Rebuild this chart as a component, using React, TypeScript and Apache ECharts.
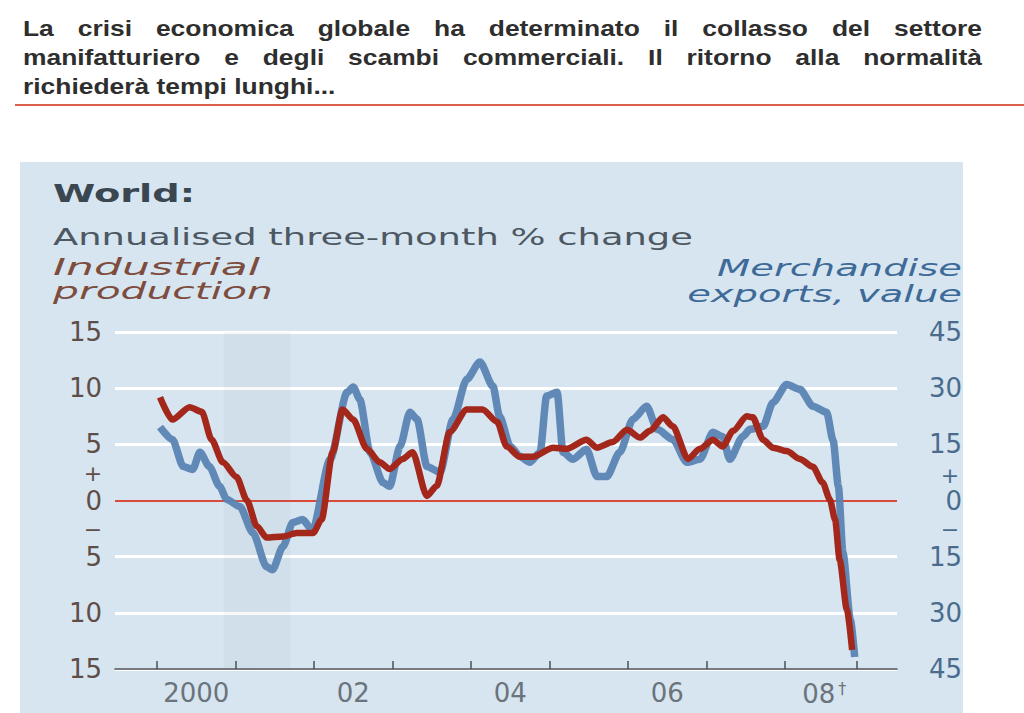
import React, { useEffect, useRef } from "react";
import * as echarts from "echarts";

// ---------- texts ----------
const headerLines = [
  "La crisi economica globale ha determinato il collasso del settore",
  "manifatturiero e degli scambi commerciali. Il ritorno alla normalità",
  "richiederà tempi lunghi...",
];
const chartTitle = "World:";
const chartSubtitle = "Annualised three-month % change";
const leftLegend = ["Industrial", "production"];
const rightLegend = ["Merchandise", "exports, value"];

// ---------- axes ----------
const yearTicks = [2000, 2001, 2002, 2003, 2004, 2005, 2006, 2007, 2008];
const lastDataTick = 2008.92;
const xLabelYears = [2000, 2002, 2004, 2006, 2008];
const xLabelTexts = ["2000", "02", "04", "06", "08"];
const shadedPeriod = [2000.85, 2001.7];

// ---------- data ----------
// Industrial production, annualised 3-month % change (left axis)
const industrialDates = [
  "2000-01-15", "2000-03-12", "2000-06", "2000-07-27", "2000-09-12", "2000-11-03",
  "2001-01-06", "2001-02-24", "2001-04-09", "2001-05-24", "2001-08-09", "2001-10-12", "2001-12-27",
  "2002-02-06", "2002-03-27", "2002-05-12", "2002-07", "2002-09-03", "2002-11-03", "2002-12-18",
  "2003-02-18", "2003-04-03", "2003-06-09", "2003-07-24", "2003-09-24", "2003-12-12",
  "2004-02-24", "2004-05", "2004-06-15", "2004-08-15", "2004-10-15",
  "2005-01-18", "2005-03-21", "2005-06-21", "2005-08-09", "2005-10-21", "2005-12-27",
  "2006-02-27", "2006-04-12", "2006-06-12", "2006-07-27", "2006-10-06", "2006-12",
  "2007-02", "2007-03-15", "2007-05-03", "2007-07-06", "2007-08-03", "2007-09-21", "2007-11-06",
  "2008-01-09", "2008-03-09", "2008-05-09", "2008-06-24", "2008-07-27", "2008-08-21",
  "2008-09-12", "2008-10-15", "2008-11-09",
];
const industrialValues = [
  9.2, 7.2, 8.3, 7.9, 5.4, 3.4,
  2.1, 0, -2.3, -3.3, -3.2, -2.9, -2.9,
  -1.7, 4.3, 8.1, 7.2, 4.6, 3.4, 2.8,
  3.7, 4.3, 0.4, 1.3, 6.1, 8.1,
  8.1, 7.0, 4.8, 3.9, 3.9,
  4.7, 4.6, 5.4, 4.7, 5.2, 6.3,
  5.6, 6.2, 7.4, 6.6, 3.7, 4.6,
  5.4, 4.8, 6.2, 7.5, 7.4, 5.4, 4.7,
  4.4, 3.7, 3.0, 1.6, 0.1, -1.7,
  -5.3, -9.7, -13.3,
];

// Merchandise exports, value, annualised 3-month % change (right axis)
const exportsDates = [
  "2000-01-15", "2000-03-12", "2000-05", "2000-06-15", "2000-07-18", "2000-09", "2000-10-18", "2000-11-21",
  "2001-01-21", "2001-03-21", "2001-05-24", "2001-06-21", "2001-08-09", "2001-09-24", "2001-11-09", "2001-12-24",
  "2002-03-15", "2002-06-03", "2002-07-01", "2002-08-01", "2002-09-18", "2002-11-18", "2002-12-18",
  "2003-02-06", "2003-03-21", "2003-04-24", "2003-06-09", "2003-08-09", "2003-10-09", "2003-12-12",
  "2004-02-12", "2004-04-12", "2004-05-12", "2004-07-01", "2004-08-15", "2004-10-01", "2004-11-18", "2004-12-18",
  "2005-02-06", "2005-03-03", "2005-04-18", "2005-06-21", "2005-08-09", "2005-09-24", "2005-11-24",
  "2006-01-24", "2006-03-27", "2006-05-15", "2006-07-27", "2006-10-01", "2006-12-01",
  "2007-02-01", "2007-03-15", "2007-04-18", "2007-06-18", "2007-07-21", "2007-09-21", "2007-11-06",
  "2008-01-09", "2008-03-09", "2008-05-09", "2008-07-12", "2008-08-12", "2008-09-06", "2008-09-27",
  "2008-11-01", "2008-11-21",
];
const exportsValues = [
  19.6, 16.3, 9.1, 8.3, 12.9, 9.1, 3.8, 0.3,
  -1.6, -8.6, -17.7, -18.5, -12.3, -5.9, -5.1, -8,
  11, 28.9, 30.3, 27, 12.9, 4.8, 3.8,
  14.5, 23.6, 21.7, 9.1, 7.5, 21.7, 32.4,
  37, 30.5, 22.5, 14.5, 11.8, 10.2, 12.9, 27.9,
  28.9, 12.9, 11, 13.7, 6.4, 6.4, 12.9,
  21.7, 25.2, 19, 16.3, 10.2, 11,
  18.2, 17.1, 11, 17.1, 19, 19.8, 26.2,
  31, 29.7, 25.2, 23.6, 16, 3.8, -13.9,
  -31.9, -41.8,
];

// ---------- helpers ----------
function toYear(s: string): number {
  const p = s.split("-").map(Number);
  const m = p[1] || 1;
  const d = p[2] || 1;
  return p[0] + (m - 1) / 12 + (d - 1) / 365;
}

let measureCtx: CanvasRenderingContext2D | null = null;
function measureText(text: string, font: string): number {
  if (!measureCtx) measureCtx = document.createElement("canvas").getContext("2d");
  measureCtx!.font = font;
  return measureCtx!.measureText(text).width;
}

const CHART_FONT = '"DejaVu Sans", "Noto Sans", sans-serif';
const HEADER_FONT = '"Liberation Sans", Arial, sans-serif';

function buildHeader(): any[] {
  const size = 22;
  const sx = 1.2;
  const left = 23;
  const right = 982;
  const mids = [28.5, 57.5, 86.5];
  const font = `bold ${size}px ${HEADER_FONT}`;
  const els: any[] = [];
  headerLines.forEach((line, li) => {
    const words = line.split(" ");
    const widths = words.map((w) => measureText(w, font) * sx);
    const total = widths.reduce((a, b) => a + b, 0);
    const justify = li < headerLines.length - 1;
    const gap = justify ? (right - left - total) / (words.length - 1) : measureText(" ", font) * sx;
    let x = left;
    words.forEach((w, wi) => {
      els.push({
        type: "text",
        x,
        y: mids[li],
        scaleX: sx,
        silent: true,
        style: {
          text: w,
          x: 0,
          y: 0,
          fill: "#2e2e2e",
          fontSize: size,
          fontWeight: "bold",
          fontFamily: HEADER_FONT,
          align: "left",
          textAlign: "left",
          verticalAlign: "middle",
          textVerticalAlign: "middle",
        },
      });
      x += widths[wi] + gap;
    });
  });
  return els;
}

function fittedText(
  text: string,
  x: number,
  y: number,
  target: number,
  size: number,
  color: string,
  weight: string,
  fstyle: string,
  align: "left" | "right"
) {
  const font = `${fstyle} ${weight} ${size}px ${CHART_FONT}`;
  const w = measureText(text, font);
  const sx = w > 0 ? target / w : 1;
  return {
    type: "text",
    x,
    y,
    scaleX: sx,
    silent: true,
    style: {
      text,
      x: 0,
      y: 0,
      fill: color,
      fontSize: size,
      fontWeight: weight,
      fontStyle: fstyle,
      fontFamily: CHART_FONT,
      align,
      textAlign: align,
      verticalAlign: "middle",
      textVerticalAlign: "middle",
    },
  };
}

function signText(text: string, x: number, y: number, color: string) {
  return {
    type: "text",
    x,
    y,
    silent: true,
    style: {
      text,
      x: 0,
      y: 0,
      fill: color,
      fontSize: 22,
      fontFamily: CHART_FONT,
      align: "center",
      textAlign: "center",
      verticalAlign: "middle",
      textVerticalAlign: "middle",
    },
  };
}

const LEFT_COLOR = "#5f4e48";
const RIGHT_COLOR = "#4b6b8c";
const X_COLOR = "#6b737b";

export default function App() {
  const ref = useRef<HTMLDivElement>(null);

  useEffect(() => {
    if (!ref.current) return;
    const chart = echarts.init(ref.current, undefined, { renderer: "svg" });

    const industrialData = industrialDates.map((d, i) => [toYear(d), industrialValues[i]]);
    const exportsData = exportsDates.map((d, i) => [toYear(d), exportsValues[i]]);

    const graphic: any[] = [
      {
        type: "rect",
        z: -10,
        silent: true,
        shape: { x: 20, y: 162, width: 943, height: 551 },
        style: { fill: "#d6e5f0" },
      },
      {
        type: "line",
        silent: true,
        shape: { x1: 15, y1: 105, x2: 1024, y2: 105 },
        style: { stroke: "#d9604c", lineWidth: 2 },
      },
      ...buildHeader(),
      fittedText(chartTitle, 53, 194, 142, 25, "#3a4650", "bold", "normal", "left"),
      fittedText(chartSubtitle, 53, 237, 640, 23, "#4d5862", "normal", "normal", "left"),
      fittedText(leftLegend[0], 53, 267, 207, 23, "#7d4c3c", "normal", "italic", "left"),
      fittedText(leftLegend[1], 53, 291, 220, 23, "#7d4c3c", "normal", "italic", "left"),
      fittedText(rightLegend[0], 962, 268, 245, 23, "#3e6a98", "normal", "italic", "right"),
      fittedText(rightLegend[1], 962, 294, 275, 23, "#3e6a98", "normal", "italic", "right"),
      signText("+", 93, 473, LEFT_COLOR),
      signText("\u2212", 93, 529, LEFT_COLOR),
      signText("+", 950, 475, RIGHT_COLOR),
      signText("\u2212", 950, 529, RIGHT_COLOR),
    ];

    const whiteSplit = ["#ffffff", "#ffffff", "#ffffff", "rgba(0,0,0,0)", "#ffffff", "#ffffff", "#ffffff"];
    const redSplit = ["rgba(0,0,0,0)", "rgba(0,0,0,0)", "rgba(0,0,0,0)", "#d84a3a", "rgba(0,0,0,0)", "rgba(0,0,0,0)", "rgba(0,0,0,0)"];

    const option: any = {
      animation: false,
      backgroundColor: "#ffffff",
      textStyle: { fontFamily: CHART_FONT },
      grid: { left: 115, right: 127, top: 332, bottom: 44, containLabel: false },
      graphic,
      xAxis: {
        type: "value",
        min: 1999.465,
        max: 2009.427,
        axisLine: { show: true, onZero: false, lineStyle: { color: "#4a4f56", width: 1.5 } },
        axisTick: {
          show: true,
          inside: true,
          length: 8,
          customValues: [...yearTicks, lastDataTick],
          lineStyle: { color: "#4a4f56", width: 1.5 },
        },
        axisLabel: {
          show: true,
          customValues: xLabelYears.map((y) => y + 0.5),
          color: X_COLOR,
          fontSize: 26,
          fontFamily: CHART_FONT,
          margin: 11,
          formatter: (v: number) => {
            const i = xLabelYears.findIndex((y) => Math.abs(y + 0.5 - v) < 0.01);
            if (i < 0) return "";
            return i === xLabelYears.length - 1 ? `${xLabelTexts[i]}{d|\u2020}` : xLabelTexts[i];
          },
          rich: {
            d: { fontSize: 16, color: X_COLOR, fontFamily: CHART_FONT, padding: [0, 0, 12, 3] },
          },
        },
        splitLine: { show: false },
      },
      yAxis: [
        {
          type: "value",
          position: "left",
          min: -15,
          max: 15,
          interval: 5,
          axisLine: { show: false },
          axisTick: { show: false },
          axisLabel: {
            color: LEFT_COLOR,
            fontSize: 26,
            fontFamily: CHART_FONT,
            margin: 13,
            formatter: (v: number) => String(Math.abs(v)),
          },
          splitLine: { show: true, lineStyle: { color: whiteSplit, width: 3 } },
        },
        {
          type: "value",
          position: "right",
          min: -45,
          max: 45,
          interval: 15,
          axisLine: { show: false },
          axisTick: { show: false },
          axisLabel: {
            color: RIGHT_COLOR,
            fontSize: 26,
            fontFamily: CHART_FONT,
            margin: 65,
            align: "right",
            formatter: (v: number) => String(Math.abs(v)),
          },
          splitLine: { show: true, lineStyle: { color: redSplit, width: 1.8 } },
        },
      ],
      series: [
        {
          name: "Merchandise exports, value",
          type: "line",
          yAxisIndex: 1,
          data: exportsData,
          showSymbol: false,
          symbol: "none",
          smooth: 0.25,
          smoothMonotone: "x",
          z: 3,
          lineStyle: { color: "#5b84b3", width: 7.5, opacity: 0.95 },
          markArea: {
            silent: true,
            itemStyle: { color: "rgba(110,120,135,0.05)" },
            data: [[{ xAxis: shadedPeriod[0] }, { xAxis: shadedPeriod[1] }]],
          },
        },
        {
          name: "Industrial production",
          type: "line",
          yAxisIndex: 0,
          data: industrialData,
          showSymbol: false,
          symbol: "none",
          smooth: 0.25,
          smoothMonotone: "x",
          z: 4,
          lineStyle: { color: "#a3281b", width: 6.5 },
        },
      ],
    };

    chart.setOption(option);
    return () => chart.dispose();
  }, []);

  return (
    <div
      ref={ref}
      style={{ position: "fixed", left: 0, top: 0, width: 1024, height: 713 }}
    />
  );
}
